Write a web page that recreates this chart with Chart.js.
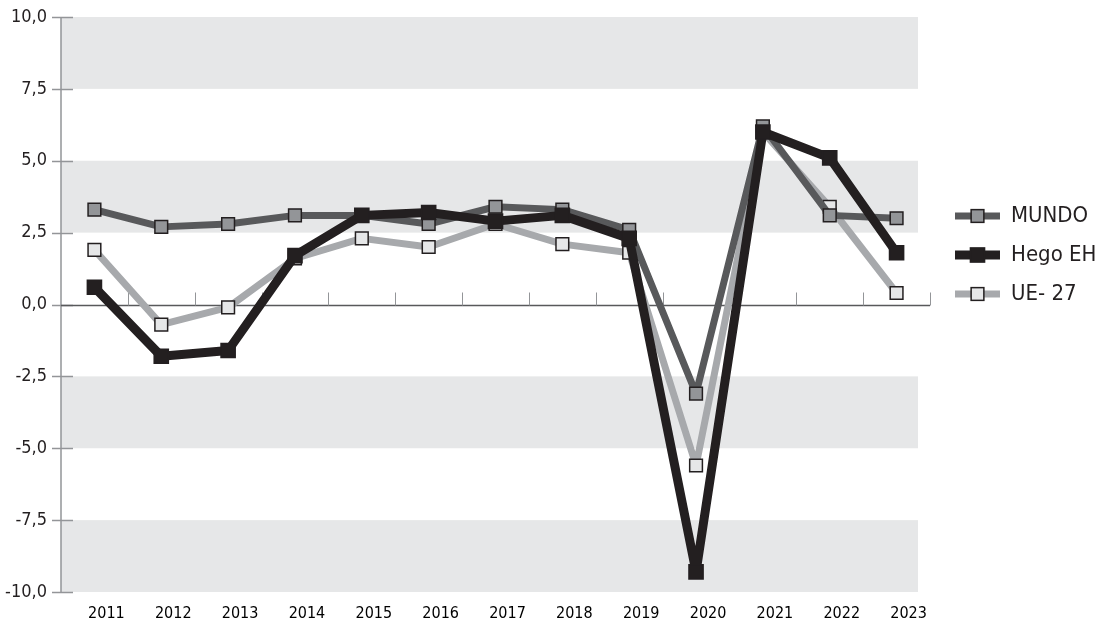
<!DOCTYPE html>
<html><head><meta charset="utf-8">
<script src="https://cdn.jsdelivr.net/npm/chart.js@4"></script>
<style>html,body{margin:0;padding:0;background:#fff;}#wrap{width:1099px;height:619px;}</style>
</head><body><div id="wrap"><canvas id="c" width="1099" height="619"></canvas></div>
<script>
const years = ['2011','2012','2013','2014','2015','2016','2017','2018','2019','2020','2021','2022','2023'];
const mundo = [3.3, 2.7, 2.8, 3.1, 3.1, 2.8, 3.4, 3.3, 2.6, -3.1, 6.2, 3.1, 3.0];
const hegoEH = [0.6, -1.8, -1.6, 1.7, 3.1, 3.2, 2.9, 3.1, 2.3, -9.3, 6.0, 5.1, 1.8];
const ue27 = [1.9, -0.7, -0.1, 1.6, 2.3, 2.0, 2.8, 2.1, 1.8, -5.6, 6.0, 3.4, 0.4];
const yTicks = [-10, -7.5, -5, -2.5, 0, 2.5, 5, 7.5, 10];
const seriesNames = ['MUNDO', 'Hego EH', 'UE- 27'];
const bandRanges = [[7.5, 10], [2.5, 5], [-5, -2.5], [-10, -7.5]];

const FONT = "'Liberation Sans Narrow', 'DejaVu Sans Condensed', 'Arial Narrow', sans-serif";
const styles = [
  {line: '#58595b', fill: '#939598', border: '#231f20', width: 7, r: 9},
  {line: '#231f20', fill: '#231f20', border: '#231f20', width: 9, r: 10},
  {line: '#a7a9ac', fill: '#e6e7e8', border: '#231f20', width: 7, r: 9}
];
const seriesData = [mundo, hegoEH, ue27];
const drawOrder = [1, 0, 2];

const decor = {
  id: 'decor',
  beforeDatasetsDraw(chart) {
    const {ctx, chartArea: a, scales: {x, y}} = chart;
    ctx.save();
    ctx.fillStyle = '#e6e7e8';
    bandRanges.forEach(([lo, hi]) => {
      const t = y.getPixelForValue(hi), b = y.getPixelForValue(lo);
      ctx.fillRect(a.left, t, a.right - 12 - a.left, b - t);
    });
    ctx.strokeStyle = '#939598';
    ctx.lineWidth = 1.5;
    ctx.beginPath();
    ctx.moveTo(a.left, y.getPixelForValue(10));
    ctx.lineTo(a.left, y.getPixelForValue(-10));
    yTicks.forEach(v => {
      const py = Math.round(y.getPixelForValue(v)) + 0.5;
      ctx.moveTo(a.left - 9, py);
      ctx.lineTo(a.left + 12, py);
    });
    ctx.stroke();
    const z = Math.round(y.getPixelForValue(0)) + 0.5;
    ctx.strokeStyle = '#58595b';
    ctx.lineWidth = 1.5;
    ctx.beginPath();
    ctx.moveTo(a.left, z);
    ctx.lineTo(a.right, z);
    ctx.stroke();
    ctx.strokeStyle = '#939598';
    ctx.lineWidth = 1;
    ctx.beginPath();
    const half = (x.getPixelForValue(1) - x.getPixelForValue(0)) / 2;
    for (let i = 0; i < years.length; i++) {
      const bx = Math.round(x.getPixelForValue(i) + half) + 0.5;
      ctx.moveTo(bx, z);
      ctx.lineTo(bx, z - 13);
    }
    ctx.stroke();
    ctx.restore();
  },
  afterDraw(chart) {
    const {ctx, chartArea: a} = chart;
    ctx.save();
    const x0 = a.right + 25;
    const yStart = a.top + 199;
    chart.data.datasets.forEach((ds, i) => {
      const s = styles[i];
      const cy = yStart + i * 39;
      ctx.strokeStyle = s.line;
      ctx.lineWidth = s.width;
      ctx.beginPath();
      ctx.moveTo(x0, cy);
      ctx.lineTo(x0 + 45, cy);
      ctx.stroke();
      const side = s.r * Math.SQRT2;
      ctx.fillStyle = s.fill;
      ctx.strokeStyle = s.border;
      ctx.lineWidth = 1.5;
      ctx.fillRect(x0 + 22.5 - side / 2, cy - side / 2, side, side);
      ctx.strokeRect(x0 + 22.5 - side / 2, cy - side / 2, side, side);
      ctx.fillStyle = '#231f20';
      ctx.font = '22px ' + FONT;
      ctx.textBaseline = 'middle';
      ctx.textAlign = 'left';
      ctx.fillText(ds.label, x0 + 56, cy);
    });
    ctx.restore();
  }
};

new Chart(document.getElementById('c'), {
  type: 'line',
  data: {
    labels: years,
    datasets: seriesData.map((d, i) => ({
      label: seriesNames[i],
      data: d,
      order: drawOrder[i],
      borderColor: styles[i].line,
      borderWidth: styles[i].width,
      borderJoinStyle: 'bevel',
      pointStyle: 'rect',
      pointRadius: styles[i].r,
      pointBackgroundColor: styles[i].fill,
      pointBorderColor: styles[i].border,
      pointBorderWidth: 1.5,
      tension: 0,
      fill: false
    }))
  },
  options: {
    responsive: false,
    animation: false,
    devicePixelRatio: 1,
    layout: {padding: {top: 17, right: 169, left: 0, bottom: 0}},
    plugins: {legend: {display: false}, tooltip: {enabled: false}},
    scales: {
      x: {
        type: 'category',
        offset: true,
        grid: {display: false},
        border: {display: false},
        ticks: {
          color: '#000',
          font: {family: FONT, size: 16, weight: 'normal'},
          padding: 4,
          labelOffset: 12,
          maxRotation: 0,
          autoSkip: false
        },
        afterFit(s) { s.height = 27; s.paddingLeft = 0; s.paddingRight = 0; }
      },
      y: {
        min: -10, max: 10,
        afterBuildTicks(s) { s.ticks = yTicks.map(v => ({value: v})); },
        grid: {display: false, drawTicks: false},
        border: {display: false},
        ticks: {
          color: '#231f20',
          font: {family: FONT, size: 18, lineHeight: 1},
          padding: 14,
          callback: v => Number(v).toFixed(1).replace('.', ',')
        },
        afterFit(s) { s.width = 61; s.paddingTop = 0; s.paddingBottom = 0; }
      }
    }
  },
  plugins: [decor]
});
</script>
</body></html>
